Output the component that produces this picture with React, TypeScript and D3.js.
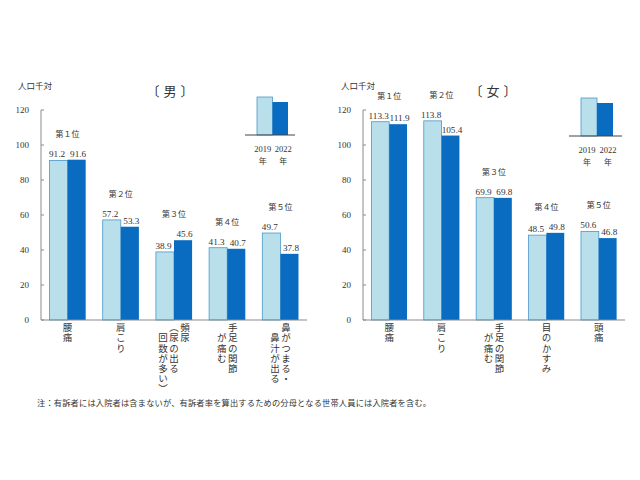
import React from "react";
import * as d3 from "d3";

const years = ["2019", "2022"];
const yTicks = [0, 20, 40, 60, 80, 100, 120];
const ranks = ["第１位", "第２位", "第３位", "第４位", "第５位"];

const maleCategories: string[][] = [
  ["腰痛"],
  ["肩こり"],
  ["頻尿", "（尿の出る", "　回数が多い）"],
  ["手足の関節", "　が痛む"],
  ["鼻がつまる・", "　鼻汁が出る"],
];
const male2019 = [91.2, 57.2, 38.9, 41.3, 49.7];
const male2022 = [91.6, 53.3, 45.6, 40.7, 37.8];

const femaleCategories: string[][] = [
  ["腰痛"],
  ["肩こり"],
  ["手足の関節", "　が痛む"],
  ["目のかすみ"],
  ["頭痛"],
];
const female2019 = [113.3, 113.8, 69.9, 48.5, 50.6];
const female2022 = [111.9, 105.4, 69.8, 49.8, 46.8];

const LIGHT = "#b8dfea";
const LIGHT_STROKE = "#4a98cc";
const DARK = "#0a6cc0";
const AXIS = "#8a8a8a";
const TEXT = "#333";
const JP = "'Noto Sans CJK JP', sans-serif";
const NUM = "'Liberation Serif', 'DejaVu Serif', serif";

type PanelProps = {
  x0: number;
  x1: number;
  title: string;
  titleX: number;
  unitX: number;
  categories: string[][];
  v2019: number[];
  v2022: number[];
  legend: { base0: number; base1: number; baseY: number; barX: number; barW: number };
};

function Panel({ x0, x1, title, titleX, unitX, categories, v2019, v2022, legend }: PanelProps) {
  const y = d3.scaleLinear().domain([0, 120]).range([320, 110]);
  const keys = categories.map((_, i) => String(i));
  const x = d3.scaleBand<string>().domain(keys).range([x0, x1]).padding(0);
  const bw = x.bandwidth() * 0.34;
  const colGap = 11;

  return (
    <g>
      <text x={unitX} y={89} fontFamily={JP} fontSize={8.5} fill={TEXT}>
        人口千対
      </text>
      <text x={titleX - 17} y={96} fontFamily={JP} fontSize={13} fill={TEXT} textAnchor="middle">
        〔
      </text>
      <text x={titleX} y={96} fontFamily={JP} fontSize={13} fill={TEXT} textAnchor="middle">
        {title}
      </text>
      <text x={titleX + 17} y={96} fontFamily={JP} fontSize={13} fill={TEXT} textAnchor="middle">
        〕
      </text>
      <line x1={x0} x2={x0} y1={y(0)} y2={y(120)} stroke={AXIS} strokeWidth={1} />
      {yTicks.map((t) => (
        <g key={t}>
          <line x1={x0} x2={x0 + 3} y1={y(t)} y2={y(t)} stroke={AXIS} strokeWidth={1} />
          <text
            x={x0 - 12}
            y={y(t) + 3}
            fontFamily={NUM}
            fontSize={9}
            fill={TEXT}
            textAnchor="end"
          >
            {t}
          </text>
        </g>
      ))}
      {keys.map((k, i) => {
        const c = (x(k) as number) + x.bandwidth() / 2;
        const a = v2019[i];
        const b = v2022[i];
        const top = Math.min(y(a), y(b));
        return (
          <g key={k}>
            <rect
              x={c - bw}
              y={y(a)}
              width={bw}
              height={y(0) - y(a)}
              fill={LIGHT}
              stroke={LIGHT_STROKE}
              strokeWidth={0.8}
            />
            <rect x={c} y={y(b)} width={bw} height={y(0) - y(b)} fill={DARK} />
            <text
              x={c - bw / 2 - 1.5}
              y={y(a) - 3}
              fontFamily={NUM}
              fontSize={9.2}
              fill={TEXT}
              textAnchor="middle"
            >
              {a.toFixed(1)}
            </text>
            <text
              x={c + bw / 2 + 1.5}
              y={y(b) - 3}
              fontFamily={NUM}
              fontSize={9.2}
              fill={TEXT}
              textAnchor="middle"
            >
              {b.toFixed(1)}
            </text>
            <text
              x={c}
              y={top - 23}
              fontFamily={JP}
              fontSize={8}
              fill={TEXT}
              textAnchor="middle"
            >
              {ranks[i]}
            </text>
            {categories[i].map((col, j) => {
              const n = categories[i].length;
              const cx = c + ((n - 1) / 2) * colGap - j * colGap;
              return (
                <text
                  key={j}
                  x={cx}
                  y={323}
                  fontFamily={JP}
                  fontSize={9.5}
                  letterSpacing={0.6}
                  fill={TEXT}
                  style={{ writingMode: "vertical-rl" } as React.CSSProperties}
                >
                  {col}
                </text>
              );
            })}
          </g>
        );
      })}
      <line x1={x0} x2={x1} y1={y(0)} y2={y(0)} stroke={AXIS} strokeWidth={1.2} />
      <g>
        <rect
          x={legend.barX}
          y={legend.baseY - 38}
          width={legend.barW}
          height={38}
          fill={LIGHT}
          stroke={LIGHT_STROKE}
          strokeWidth={0.8}
        />
        <rect
          x={legend.barX + legend.barW}
          y={legend.baseY - 33}
          width={legend.barW}
          height={33}
          fill={DARK}
        />
        <line
          x1={legend.base0}
          x2={legend.base1}
          y1={legend.baseY}
          y2={legend.baseY}
          stroke="#444"
          strokeWidth={1.2}
        />
        {years.map((yr, i) => {
          const cx = legend.barX + legend.barW / 2 + i * legend.barW + (i === 0 ? -2 : 3);
          return (
            <g key={yr}>
              <text
                x={cx}
                y={legend.baseY + 17}
                fontFamily={NUM}
                fontSize={8.5}
                fill={TEXT}
                textAnchor="middle"
              >
                {yr}
              </text>
              <text
                x={cx}
                y={legend.baseY + 29}
                fontFamily={JP}
                fontSize={8}
                fill={TEXT}
                textAnchor="middle"
              >
                年
              </text>
            </g>
          );
        })}
      </g>
    </g>
  );
}

export default function App() {
  return (
    <svg
      width={640}
      height={480}
      viewBox="0 0 640 480"
      style={{ position: "absolute", left: 0, top: 0, display: "block", background: "#fff" }}
    >
      <rect width={640} height={480} fill="#fff" />
      <Panel
        x0={41}
        x1={307}
        title="男"
        titleX={170}
        unitX={18}
        categories={maleCategories}
        v2019={male2019}
        v2022={male2022}
        legend={{ base0: 245, base1: 295, baseY: 135, barX: 257, barW: 15.5 }}
      />
      <Panel
        x0={363}
        x1={625}
        title="女"
        titleX={493}
        unitX={341}
        categories={femaleCategories}
        v2019={female2019}
        v2022={female2022}
        legend={{ base0: 569, base1: 622, baseY: 136, barX: 581, barW: 16 }}
      />
      <text
        x={37}
        y={406}
        fontFamily={JP}
        fontSize={8.2}
        fill={TEXT}
        textLength={394}
        lengthAdjust="spacing"
      >
        注：有訴者には入院者は含まないが、有訴者率を算出するための分母となる世帯人員には入院者を含む。
      </text>
    </svg>
  );
}
